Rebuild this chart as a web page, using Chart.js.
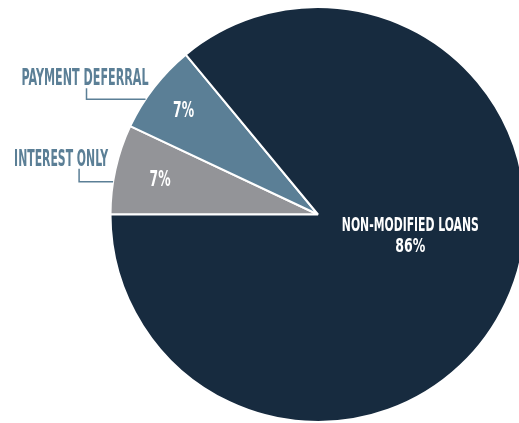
<!DOCTYPE html>
<html>
<head>
<meta charset="utf-8">
<script src="https://cdn.jsdelivr.net/npm/chart.js@4.4.1/dist/chart.umd.min.js"></script>
<style>
  html, body { margin: 0; padding: 0; background: #ffffff; overflow: hidden; width: 519px; height: 423px; }
  #wrap { width: 540px; height: 423px; }
</style>
</head>
<body>
<div id="wrap"><canvas id="c" width="540" height="423"></canvas></div>
<script>
const categories = ['INTEREST ONLY', 'PAYMENT DEFERRAL', 'NON-MODIFIED LOANS'];
const values = [7, 7, 86];
const valueLabels = ['7%', '7%', '86%'];
const sliceColors = ['#939498', '#5b7f96', '#172b3f'];
const labelColor = '#5b7f96';

const FONT = "'Liberation Sans Narrow', 'DejaVu Sans Condensed', 'Liberation Sans', sans-serif";

function fitText(ctx, text, x, y, capH, width, align, color) {
  const size = capH / 0.66;
  ctx.save();
  ctx.font = 'bold ' + size + 'px ' + FONT;
  ctx.fillStyle = color;
  ctx.textBaseline = 'alphabetic';
  ctx.textAlign = 'left';
  const w = ctx.measureText(text).width;
  const s = width / w;
  let left = x;
  if (align === 'center') left = x - width / 2;
  else if (align === 'right') left = x - width;
  ctx.translate(left, y);
  ctx.scale(s, 1);
  ctx.fillText(text, 0, 0);
  ctx.restore();
}

const labelPlugin = {
  id: 'labelPlugin',
  afterDatasetsDraw(chart) {
    const ctx = chart.ctx;
    const meta = chart.getDatasetMeta(0);
    meta.data.forEach((arc, i) => {
      const p = arc.getProps(['x', 'y', 'startAngle', 'endAngle', 'outerRadius'], true);
      const mid = (p.startAngle + p.endAngle) / 2;
      if (i === 2) {
        const cx = p.x + p.outerRadius * 0.445;
        const cy = p.y + p.outerRadius * 0.08;
        fitText(ctx, categories[i], cx, cy, 13, 137, 'center', '#ffffff');
        fitText(ctx, valueLabels[i], cx, cy + 21, 13, 30, 'center', '#ffffff');
      } else {
        const r = p.outerRadius * (i === 0 ? 0.78 : 0.82);
        const lx = p.x + Math.cos(mid) * r;
        const ly = p.y + Math.sin(mid) * r;
        fitText(ctx, valueLabels[i], lx, ly + 7, 14, 21, 'center', '#ffffff');
        const frac = i === 1 ? 0.34 : 0.36;
        const a = p.startAngle + (p.endAngle - p.startAngle) * frac;
        const ex = p.x + Math.cos(a) * p.outerRadius;
        const ey = p.y + Math.sin(a) * p.outerRadius;
        const horiz = i === 1 ? 59 : 34;
        const vert = i === 1 ? 11 : 13;
        const vx = ex - horiz;
        ctx.save();
        ctx.strokeStyle = labelColor;
        ctx.lineWidth = 1.5;
        ctx.beginPath();
        ctx.moveTo(ex, ey);
        ctx.lineTo(vx, ey);
        ctx.lineTo(vx, ey - vert);
        ctx.stroke();
        ctx.restore();
        const textRight = i === 1 ? vx + 62 : vx + 29;
        const textW = i === 1 ? 127 : 94;
        fitText(ctx, categories[i], textRight, ey - vert - 3, 15, textW, 'right', labelColor);
      }
    });
  }
};

new Chart(document.getElementById('c'), {
  type: 'pie',
  data: {
    labels: categories,
    datasets: [{
      data: values,
      backgroundColor: sliceColors,
      borderColor: '#ffffff',
      borderWidth: 2
    }]
  },
  options: {
    responsive: false,
    animation: false,
    rotation: 270,
    layout: { padding: { left: 96, right: 0, top: 6, bottom: 0 } },
    plugins: {
      legend: { display: false },
      tooltip: { enabled: false }
    }
  },
  plugins: [labelPlugin]
});
</script>
</body>
</html>
